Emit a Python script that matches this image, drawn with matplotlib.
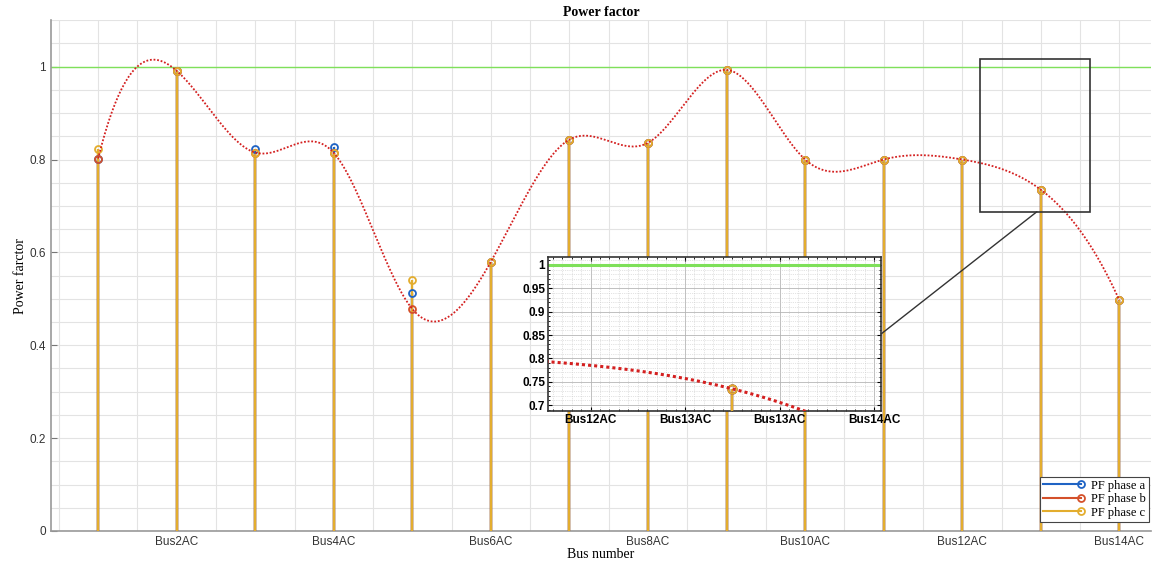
import numpy as np
import matplotlib
matplotlib.use("Agg")
import matplotlib.pyplot as plt
from matplotlib.ticker import MultipleLocator, FixedLocator
from matplotlib.legend_handler import HandlerLine2D
from matplotlib.lines import Line2D
from matplotlib.patches import Rectangle, ConnectionPatch

# Data
buses = np.arange(1, 15)
pf_a = [0.802, 0.991, 0.823, 0.828, 0.513, 0.580, 0.843, 0.836, 0.993, 0.800, 0.800, 0.800, 0.735, 0.497]
pf_b = [0.802, 0.991, 0.815, 0.814, 0.478, 0.580, 0.843, 0.836, 0.993, 0.800, 0.800, 0.800, 0.735, 0.497]
pf_c = [0.823, 0.991, 0.815, 0.814, 0.541, 0.580, 0.843, 0.836, 0.993, 0.800, 0.800, 0.800, 0.735, 0.497]
tick_pos = [2, 4, 6, 8, 10, 12, 14]
tick_lab = ["Bus2AC", "Bus4AC", "Bus6AC", "Bus8AC", "Bus10AC", "Bus12AC", "Bus14AC"]
zoom_ticks = [12.4, 12.8, 13.2, 13.6]
zoom_lab = ["Bus12AC", "Bus13AC", "Bus13AC", "Bus14AC"]

col_a = "#1f63c4"
col_b = "#d4502a"
col_c = "#e3ad2e"
sans = ["Liberation Sans", "DejaVu Sans"]
serif = ["Liberation Serif", "DejaVu Serif"]


# not-a-knot cubic spline (like matlab spline) through phase b
def spline(x, y, xs):
    x = np.asarray(x, float)
    y = np.asarray(y, float)
    n = len(x)
    h = np.diff(x)
    A = np.zeros((n, n))
    r = np.zeros(n)
    for i in range(1, n - 1):
        A[i, i - 1] = h[i - 1]
        A[i, i] = 2 * (h[i - 1] + h[i])
        A[i, i + 1] = h[i]
        r[i] = 6 * ((y[i + 1] - y[i]) / h[i] - (y[i] - y[i - 1]) / h[i - 1])
    A[0, 0], A[0, 1], A[0, 2] = h[1], -(h[0] + h[1]), h[0]
    A[-1, -3], A[-1, -2], A[-1, -1] = h[-1], -(h[-2] + h[-1]), h[-2]
    M = np.linalg.solve(A, r)
    idx = np.clip(np.searchsorted(x, xs) - 1, 0, n - 2)
    x0, x1 = x[idx], x[idx + 1]
    hh = x1 - x0
    t0, t1 = x1 - xs, xs - x0
    return (M[idx] * t0**3 + M[idx + 1] * t1**3) / (6 * hh) \
        + (y[idx] / hh - M[idx] * hh / 6) * t0 + (y[idx + 1] / hh - M[idx + 1] * hh / 6) * t1


xs = np.linspace(1, 14, 600)
ys = spline(buses, pf_b, xs)


# legend entry: line with the marker at its right end (stem style)
class EndMarker(HandlerLine2D):
    def create_artists(self, legend, orig_handle, xdescent, ydescent, width, height, fontsize, trans):
        arts = super().create_artists(legend, orig_handle, xdescent, ydescent, width, height, fontsize, trans)
        arts[0].set_markevery([2])
        return arts


fig = plt.figure(figsize=(11.54, 5.61), dpi=100)
ax = fig.add_axes([0.0442, 0.0535, 0.953, 0.9105])


def draw(a, lw_fit, ms):
    a.axhline(1, color="#7fe05a", lw=lw_fit[0], zorder=2)
    for vals, c in [(pf_a, col_a), (pf_b, col_b), (pf_c, col_c)]:
        a.vlines(buses, 0, vals, color=c, lw=1.7, zorder=3)
        a.plot(buses, vals, "o", mfc="none", mec=c, mew=1.3, ms=ms, zorder=4)
    a.plot(xs, ys, color="#d42020", lw=lw_fit[1], ls=(0, (1, 1)), zorder=5)


draw(ax, (1.0, 1.3), 5)
ax.set_xlim(0.4, 14.4)
ax.set_ylim(0, 1.1)
ax.set_xticks(tick_pos)
ax.set_xticklabels(tick_lab, fontfamily=sans, fontsize=8.5, color="#333333")
ax.xaxis.set_minor_locator(MultipleLocator(0.5))
ax.set_yticks([0, 0.2, 0.4, 0.6, 0.8, 1])
ax.set_yticklabels(["0", "0.2", "0.4", "0.6", "0.8", "1"], fontfamily=sans, fontsize=8.5, color="#333333")
ax.yaxis.set_minor_locator(MultipleLocator(0.05))
ax.grid(True, which="both", color="#e3e3e3", lw=0.8)
ax.set_axisbelow(True)
ax.tick_params(which="major", direction="in", length=4, color="#777777")
ax.tick_params(which="minor", length=0)
ax.tick_params(axis="x", which="major", length=0)
for s in ["top", "right"]:
    ax.spines[s].set_visible(False)
for s in ["left", "bottom"]:
    ax.spines[s].set_color("#999999")
    ax.spines[s].set_linewidth(1.2)
ax.set_title("Power factor", fontfamily=serif, fontsize=10, fontweight="bold", pad=3)
ax.set_ylabel("Power farctor", fontfamily=serif, fontsize=10, labelpad=2)
ax.set_xlabel("Bus number", fontfamily=serif, fontsize=10, labelpad=0)

handles = [Line2D([], [], color=c, marker="o", mfc="none", mec=c, mew=1.3, ms=5, lw=1.5)
           for c in (col_a, col_b, col_c)]
leg = ax.legend(handles, ["PF phase a", "PF phase b", "PF phase c"], loc="lower right",
                bbox_to_anchor=(0.998, 0.018), borderaxespad=0,
                prop={"family": serif, "size": 9}, handler_map={Line2D: EndMarker()},
                frameon=True, fancybox=False, edgecolor="#444444", framealpha=1,
                borderpad=0.25, labelspacing=0.12, handlelength=3.0, handletextpad=0.8,
                numpoints=1)
leg.get_frame().set_linewidth(0.8)
leg.set_zorder(10)

# zoom rectangle
x0, x1, y0, y1 = 12.22, 13.63, 0.6875, 1.017
ax.add_patch(Rectangle((x0, y0), x1 - x0, y1 - y0, fill=False, ec="#333333", lw=1.2, zorder=6))

ins = fig.add_axes([0.4749, 0.2674, 0.2886, 0.2745])
ins.set_facecolor("white")
draw(ins, (2.2, 2.2), 6)
ins.set_xlim(x0, x1)
ins.set_ylim(y0, y1)
ins.xaxis.set_major_locator(FixedLocator(zoom_ticks))
ins.set_xticklabels(zoom_lab, fontfamily=sans, fontsize=8.5, fontweight="bold")
ins.xaxis.set_minor_locator(MultipleLocator(0.04))
ins.set_yticks([0.7, 0.75, 0.8, 0.85, 0.9, 0.95, 1])
ins.set_yticklabels(["0.7", "0.75", "0.8", "0.85", "0.9", "0.95", "1"], fontfamily=sans, fontsize=8.5, fontweight="bold")
ins.yaxis.set_minor_locator(MultipleLocator(0.01))
ins.grid(True, which="major", color="#b5b5b5", lw=0.6)
ins.grid(True, which="minor", color="#c8c8c8", lw=0.5, ls=":")
ins.set_axisbelow(True)
ins.tick_params(which="both", direction="in", length=3, top=True, right=True, pad=2)
ins.tick_params(which="minor", length=1.5)
for s in ins.spines.values():
    s.set_color("#333333")
    s.set_linewidth(1.2)

con = ConnectionPatch(xyA=(1, 0.5), coordsA=ins.transAxes, xyB=(12.95, y0), coordsB=ax.transData,
                      color="#333333", lw=1.0)
fig.add_artist(con)

fig.savefig("out.png", dpi=100)
